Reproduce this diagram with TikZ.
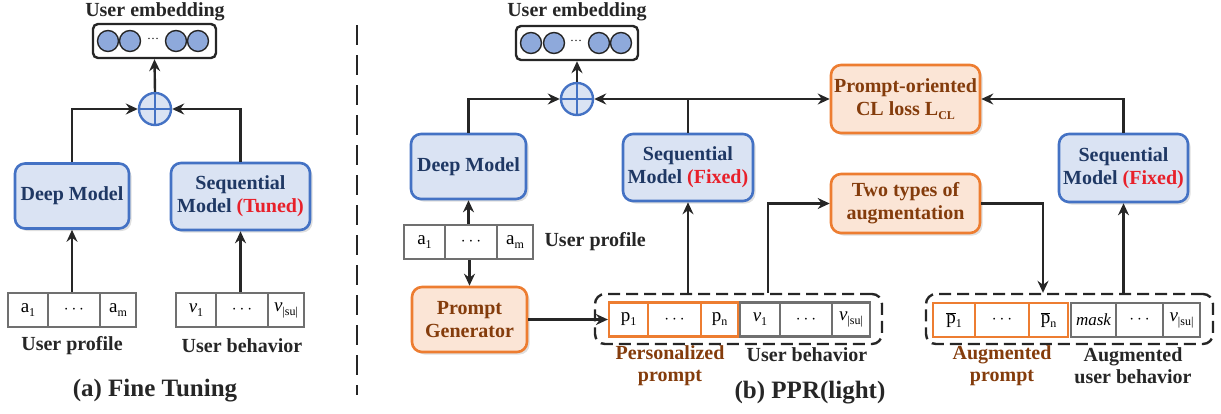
\documentclass[tikz,border=0pt]{standalone}
\usepackage{fontspec}
\setmainfont{Liberation Serif}
\usetikzlibrary{arrows.meta,shadows,calc}
\definecolor{bfill}{HTML}{DAE3F3}
\definecolor{bdraw}{HTML}{4472C4}
\definecolor{btext}{HTML}{1F3864}
\definecolor{ofill}{HTML}{FBE5D6}
\definecolor{odraw}{HTML}{ED7D31}
\definecolor{otext}{HTML}{843C0C}
\definecolor{redt}{HTML}{E8202A}
\definecolor{circf}{HTML}{8EA9DB}
\definecolor{cellg}{HTML}{707070}
\definecolor{labt}{HTML}{262626}
\newcommand\mysub[1]{\raisebox{-0.45ex}{\fontsize{12}{12}\selectfont #1}}
\newcommand\pbar{$\overline{\mbox{p}}$}
\begin{document}
\begin{tikzpicture}[x=1pt,y=-1pt,
 arr/.style={-{Stealth[length=12pt,width=11pt,inset=4pt]}, line width=2.4pt, black!85},
 ln/.style={line width=2.4pt, black!85},
 boxbase/.style={rounded corners=10pt, line width=2.6pt, align=center, inner sep=2pt,
   font=\fontsize{20}{23}\selectfont\bfseries,
   drop shadow={opacity=0.25, shadow xshift=2.5pt, shadow yshift=-2.5pt}},
 bbox/.style={boxbase, draw=bdraw, fill=bfill, text=btext},
 obox/.style={boxbase, draw=odraw, fill=ofill, text=otext},
 cell/.style={draw=cellg, line width=2.2pt, minimum height=34pt, inner sep=0pt, font=\fontsize{19}{19}\selectfont},
 ocell/.style={cell, draw=odraw},
 embbox/.style={draw=black!85, line width=2.4pt, rounded corners=5pt, minimum width=123pt, minimum height=34pt},
 emc/.style={circle, draw=black!85, line width=1.4pt, fill=circf, minimum size=21pt, inner sep=0pt},
 oplus/.style={circle, draw=bdraw, fill=bfill, line width=2.4pt, minimum size=32pt, inner sep=0pt},
 lab/.style={font=\fontsize{20}{22}\selectfont\bfseries, text=labt, align=center},
 olab/.style={lab, text=otext},
 dbox/.style={draw=black!85, line width=2.4pt, dash pattern=on 12pt off 6pt, rounded corners=10pt},
]
\useasboundingbox (0,0) rectangle (1221,413);

% ---------------- (a) ----------------
\node[lab, text=black!85] (ue1) at (155,12) {User embedding};
\node[embbox] (emb1) at (154.5,41) {};
\foreach \x/\n in {108/a,130/b,176/c,198/d} \node[emc] (e1\n) at (\x,41) {};
\node[font=\fontsize{12}{12}\selectfont] (e1dots) at (153,39) {\ldots};
\node[oplus] (op1) at (155,109) {};
\draw[bdraw, line width=2.4pt] (op1.north) -- (op1.south) (op1.west) -- (op1.east);

\node[bbox, minimum width=114pt, minimum height=65pt] (deep1) at (72,196) {Deep Model};
\node[bbox, minimum width=139pt, minimum height=67pt] (seq1) at (240.5,196.5) {Sequential\\Model \textcolor{redt}{(Tuned)}};

\node[cell, minimum width=40pt] (pa1) at (28,310) {a\mysub{1}};
\node[cell, minimum width=52pt] (pad) at (74,310) {$\cdots$};
\node[cell, minimum width=36pt] (pam) at (118,310) {a\mysub{m}};
\node[cell, minimum width=40pt] (bv1) at (196,310) {\textit{v}\mysub{1}};
\node[cell, minimum width=52pt] (bvd) at (242,310) {$\cdots$};
\node[cell, minimum width=36pt] (bvs) at (286,310) {\textit{v}\mysub{|su|}};

\node[lab] (lp1) at (72,346) {User profile};
\node[lab] (lb1) at (242,346) {User behavior};
\node[lab, font=\fontsize{25}{27}\selectfont\bfseries] (capa) at (155,391) {(a) Fine Tuning};

\draw[arr] (op1.north) -- (emb1.south);
\draw[arr] (deep1.north) |- (op1.west);
\draw[arr] (seq1.north) |- (op1.east);
\draw[arr] (pad.north -| deep1) -- (deep1.south);
\draw[arr] (bvd.north -| seq1) -- (seq1.south);

% separator
\draw[line width=2.6pt, black!85, dash pattern=on 20pt off 10pt] (357,25) -- (357,395);

% ---------------- (b) ----------------
\node[lab, text=black!85] (ue2) at (577,12) {User embedding};
\node[embbox, minimum width=122pt] (emb2) at (577,43) {};
\foreach \x/\n in {531/a,554/b,599/c,621/d} \node[emc] (e2\n) at (\x,43) {};
\node[font=\fontsize{12}{12}\selectfont] (e2dots) at (576,41) {\ldots};
\node[oplus] (op2) at (577,99) {};
\draw[bdraw, line width=2.4pt] (op2.north) -- (op2.south) (op2.west) -- (op2.east);

\node[bbox, minimum width=115pt, minimum height=65pt] (deep2) at (468.5,166.5) {Deep Model};
\node[cell, minimum width=41pt] (qa1) at (424.5,242) {a\mysub{1}};
\node[cell, minimum width=52pt] (qad) at (471,242) {$\cdots$};
\node[cell, minimum width=36pt] (qam) at (515,242) {a\mysub{m}};
\node[lab, anchor=west] (lp2) at (541,242) {User profile};
\node[obox, minimum width=115pt, minimum height=65pt] (pg) at (469.5,319.5) {Prompt\\Generator};

\node[dbox, minimum width=287pt, minimum height=50pt] (d1) at (738.5,319) {};
\node[ocell, minimum width=39pt] (p1) at (628.5,319.5) {p\mysub{1}};
\node[ocell, minimum width=53pt] (pd) at (674.5,319.5) {$\cdots$};
\node[ocell, minimum width=37pt] (pn) at (719.5,319.5) {p\mysub{n}};
\node[cell, minimum width=40pt] (v1) at (760,319.5) {\textit{v}\mysub{1}};
\node[cell, minimum width=52pt] (vd) at (806,319.5) {$\cdots$};
\node[cell, minimum width=38pt] (vs) at (851,319.5) {\textit{v}\mysub{|su|}};
\node[olab] (lpp) at (670,366) {Personalized\\prompt};
\node[lab] (lb2) at (807,355) {User behavior};
\node[lab, font=\fontsize{25}{27}\selectfont\bfseries] (capb) at (810,393) {(b) PPR(light)};

\node[bbox, minimum width=130pt, minimum height=67pt] (seq2) at (688,167.5) {Sequential\\Model \textcolor{redt}{(Fixed)}};
\node[obox, minimum width=149pt, minimum height=68pt] (cl) at (905.5,99) {Prompt-oriented\\CL loss L\mysub{CL}};
\node[obox, minimum width=149pt, minimum height=59pt] (two) at (905.5,203.5) {Two types of\\augmentation};
\node[bbox, minimum width=129pt, minimum height=68pt] (seq3) at (1123.5,168) {Sequential\\Model \textcolor{redt}{(Fixed)}};

\node[dbox, minimum width=287pt, minimum height=50pt] (d2) at (1069.5,319) {};
\node[ocell, minimum width=42pt] (q1) at (954,320) {\pbar\mysub{1}};
\node[ocell, minimum width=54pt] (qd) at (1002,320) {$\cdots$};
\node[ocell, minimum width=39pt] (qn) at (1048.5,320) {\pbar\mysub{n}};
\node[cell, minimum width=45pt, font=\fontsize{17}{17}\selectfont\itshape] (w1) at (1093.5,320) {mask};
\node[cell, minimum width=47pt] (wd) at (1139.5,320) {$\cdots$};
\node[cell, minimum width=37pt] (ws) at (1181.5,320) {\textit{v}\mysub{|su|}};
\node[olab] (lap) at (1002,366) {Augmented\\prompt};
\node[lab] (lau) at (1133,366) {Augmented\\user behavior};

\coordinate (j1) at (688,99);
\coordinate (k1) at (768,294);
\coordinate (k2) at (1043,294);

\draw[arr] (op2.north) -- (emb2.south);
\draw[arr] (deep2.north) |- (op2.west);
\draw[arr] (qad.north -| deep2) -- (deep2.south);
\draw[arr] (qad.south -| pg) -- (pg.north);
\draw[arr] (pg.east) -- (p1.west);
\draw[ln] (seq2.north) -- (j1);
\draw[arr] (j1) -- (op2.east);
\draw[arr] (j1) -- (cl.west);
\draw[arr] (d1.north -| seq2) -- (seq2.south);
\draw[arr] (k1 |- d1.north) |- (two.west);
\draw[arr] (two.east) -| (k2 |- d2.north);
\draw[arr] (seq3.north) |- (cl.east);
\draw[arr] (d2.north -| seq3) -- (seq3.south);
\end{tikzpicture}
\end{document}
